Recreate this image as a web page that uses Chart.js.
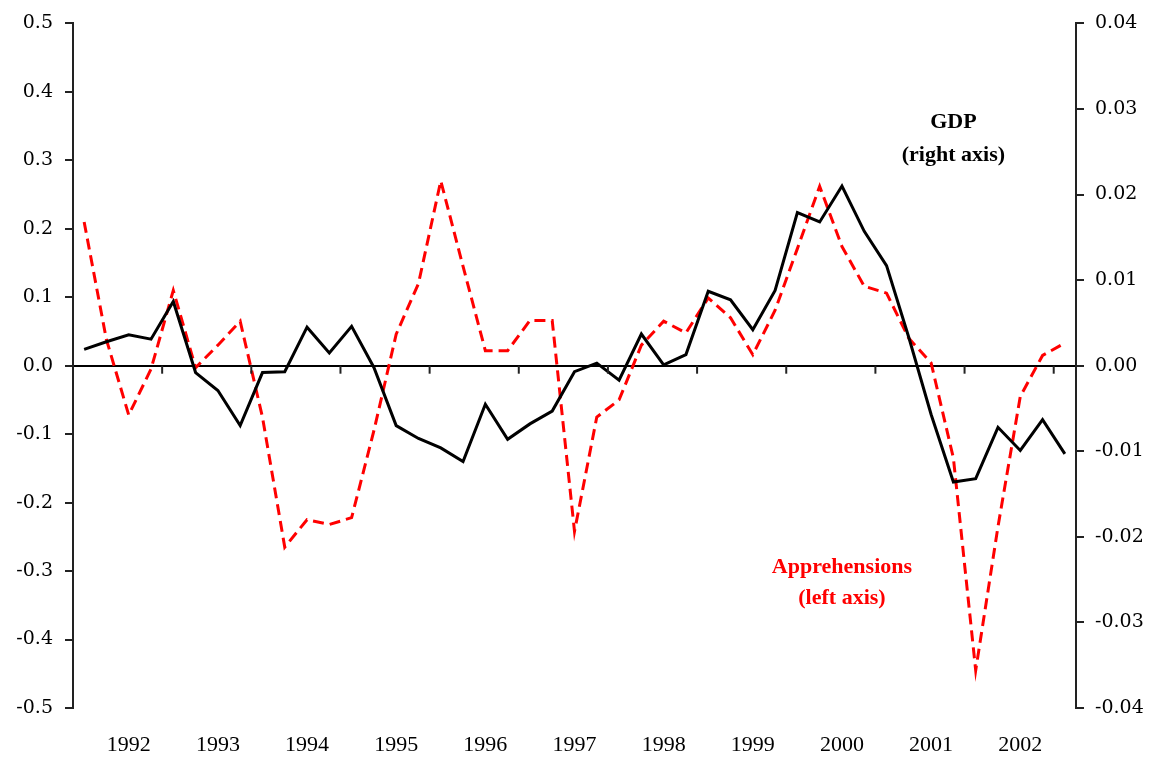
<!DOCTYPE html>
<html>
<head>
<meta charset="utf-8">
<script src="https://cdn.jsdelivr.net/npm/chart.js@4.4.1/dist/chart.umd.min.js"></script>
<style>
  body { margin: 0; background: #fff; }
  #wrap { width: 1157px; height: 763px; }
</style>
</head>
<body>
<div id="wrap"><canvas id="myChart" width="1157" height="763"></canvas></div>
<script>
// quarterly categories, year shown under the Q1 of each year
const quarters = [
    '1991Q3', '1991Q4',
    '1992Q1', '1992Q2', '1992Q3', '1992Q4',
    '1993Q1', '1993Q2', '1993Q3', '1993Q4',
    '1994Q1', '1994Q2', '1994Q3', '1994Q4',
    '1995Q1', '1995Q2', '1995Q3', '1995Q4',
    '1996Q1', '1996Q2', '1996Q3', '1996Q4',
    '1997Q1', '1997Q2', '1997Q3', '1997Q4',
    '1998Q1', '1998Q2', '1998Q3', '1998Q4',
    '1999Q1', '1999Q2', '1999Q3', '1999Q4',
    '2000Q1', '2000Q2', '2000Q3', '2000Q4',
    '2001Q1', '2001Q2', '2001Q3', '2001Q4',
    '2002Q1', '2002Q2', '2002Q3'
];
const years = ['1992', '1993', '1994', '1995', '1996', '1997', '1998', '1999', '2000', '2001', '2002'];

// left axis
const apprehensions = [
    0.21, 0.038, -0.072, -0.005, 0.11, -0.003, 0.03, 0.065, -0.075, -0.265,
    -0.225, -0.232, -0.222, -0.095, 0.046, 0.12, 0.27, 0.145, 0.022, 0.022,
    0.066, 0.066, -0.242, -0.075, -0.05, 0.03, 0.065, 0.048, 0.099, 0.07,
    0.016, 0.081, 0.171, 0.262, 0.174, 0.116, 0.106, 0.04, 0.004, -0.135,
    -0.445, -0.235, -0.045, 0.015, 0.033
];
// right axis
const gdp = [
    0.0019, 0.0028, 0.0036, 0.0031, 0.0075, -0.0008, -0.0029, -0.007, -0.0008, -0.0007,
    0.0045, 0.0015, 0.0046, -0.0002, -0.007, -0.0085, -0.0096, -0.0112, -0.0045, -0.0086,
    -0.0068, -0.0053, -0.0007, 0.0003, -0.0017, 0.0037, 0.0001, 0.0013, 0.0087, 0.0077,
    0.0042, 0.0088, 0.0179, 0.0168, 0.021, 0.0157, 0.0117, 0.0033, -0.0057, -0.0136,
    -0.0132, -0.0072, -0.0099, -0.0063, -0.0103
];

const AXIS = '#222';
const tickFont = {family: '"DejaVu Serif", serif', size: 19};
const yearFont = {family: '"Liberation Serif", serif', size: 22};

// little tick marks hanging under the zero line, one per year boundary
const zeroTicks = {
    id: 'zeroTicks',
    afterDatasetsDraw(chart) {
        const x = chart.scales.x, y = chart.scales.y;
        const y0 = y.getPixelForValue(0);
        const c = chart.ctx;
        c.save();
        c.strokeStyle = AXIS;
        c.lineWidth = 2;
        for (let i = 1; i < quarters.length; i++) {
            if (!quarters[i].endsWith('Q3')) continue;
            const px = (x.getPixelForValue(i - 1) + x.getPixelForValue(i)) / 2;
            c.beginPath();
            c.moveTo(px, y0);
            c.lineTo(px, y0 + 8);
            c.stroke();
        }
        c.restore();
    }
};

// series captions placed in data space
const captions = {
    id: 'captions',
    afterDraw(chart) {
        const x = chart.scales.x, y = chart.scales.y;
        const c = chart.ctx;
        c.save();
        c.font = 'bold 22px "Liberation Serif", serif';
        c.textAlign = 'center';
        c.textBaseline = 'middle';
        c.fillStyle = '#000';
        let px = x.getPixelForValue(39), py = y.getPixelForValue(0.356);
        c.fillText('GDP', px, py);
        c.fillText('(right axis)', px, py + 33);
        c.fillStyle = '#ff0000';
        px = x.getPixelForValue(34);
        py = y.getPixelForValue(-0.295);
        c.fillText('Apprehensions', px, py);
        c.fillText('(left axis)', px, py + 31);
        c.restore();
    }
};

new Chart(document.getElementById('myChart'), {
    type: 'line',
    plugins: [zeroTicks, captions],
    data: {
        labels: quarters,
        datasets: [
            {
                label: 'Apprehensions (left axis)',
                data: apprehensions,
                yAxisID: 'y',
                borderColor: '#ff0000',
                borderWidth: 3,
                borderDash: [11, 6],
                pointRadius: 0,
                tension: 0,
                order: 2
            },
            {
                label: 'GDP (right axis)',
                data: gdp,
                yAxisID: 'y2',
                borderColor: '#000',
                borderWidth: 3,
                pointRadius: 0,
                tension: 0,
                order: 1
            }
        ]
    },
    options: {
        responsive: false,
        animation: false,
        layout: {padding: {top: 18, bottom: 0, left: 0, right: 0}},
        plugins: {
            legend: {display: false},
            tooltip: {enabled: false}
        },
        scales: {
            x: {
                type: 'category',
                offset: true,
                grid: {display: false, drawTicks: false, offset: true},
                border: {display: false},
                ticks: {
                    autoSkip: false,
                    maxRotation: 0,
                    padding: 24,
                    color: '#000',
                    font: yearFont,
                    callback: (v, i) => {
                        const q = quarters[i];
                        return q.endsWith('Q1') && years.includes(q.slice(0, 4)) ? q.slice(0, 4) : '';
                    }
                },
                afterFit: s => { s.height = 55; }
            },
            y: {
                position: 'left',
                min: -0.5,
                max: 0.5,
                ticks: {
                    stepSize: 0.1,
                    padding: 12,
                    color: '#000',
                    font: tickFont,
                    callback: v => Math.abs(v) < 1e-9 ? '0.0' : v.toFixed(1)
                },
                grid: {
                    color: ctx => (ctx.tick && Math.abs(ctx.tick.value) < 1e-9) ? '#000' : 'rgba(0,0,0,0)',
                    lineWidth: 2,
                    tickColor: AXIS,
                    tickLength: 8
                },
                border: {color: AXIS, width: 2},
                afterFit: s => { s.width = 73; }
            },
            y2: {
                position: 'right',
                min: -0.04,
                max: 0.04,
                ticks: {
                    stepSize: 0.01,
                    padding: 11,
                    color: '#000',
                    font: tickFont,
                    callback: v => Math.abs(v) < 1e-9 ? '0.00' : v.toFixed(2)
                },
                grid: {
                    drawOnChartArea: false,
                    lineWidth: 2,
                    tickColor: AXIS,
                    tickLength: 8
                },
                border: {color: AXIS, width: 2},
                afterFit: s => { s.width = 81; }
            }
        }
    }
});
</script>
</body>
</html>
